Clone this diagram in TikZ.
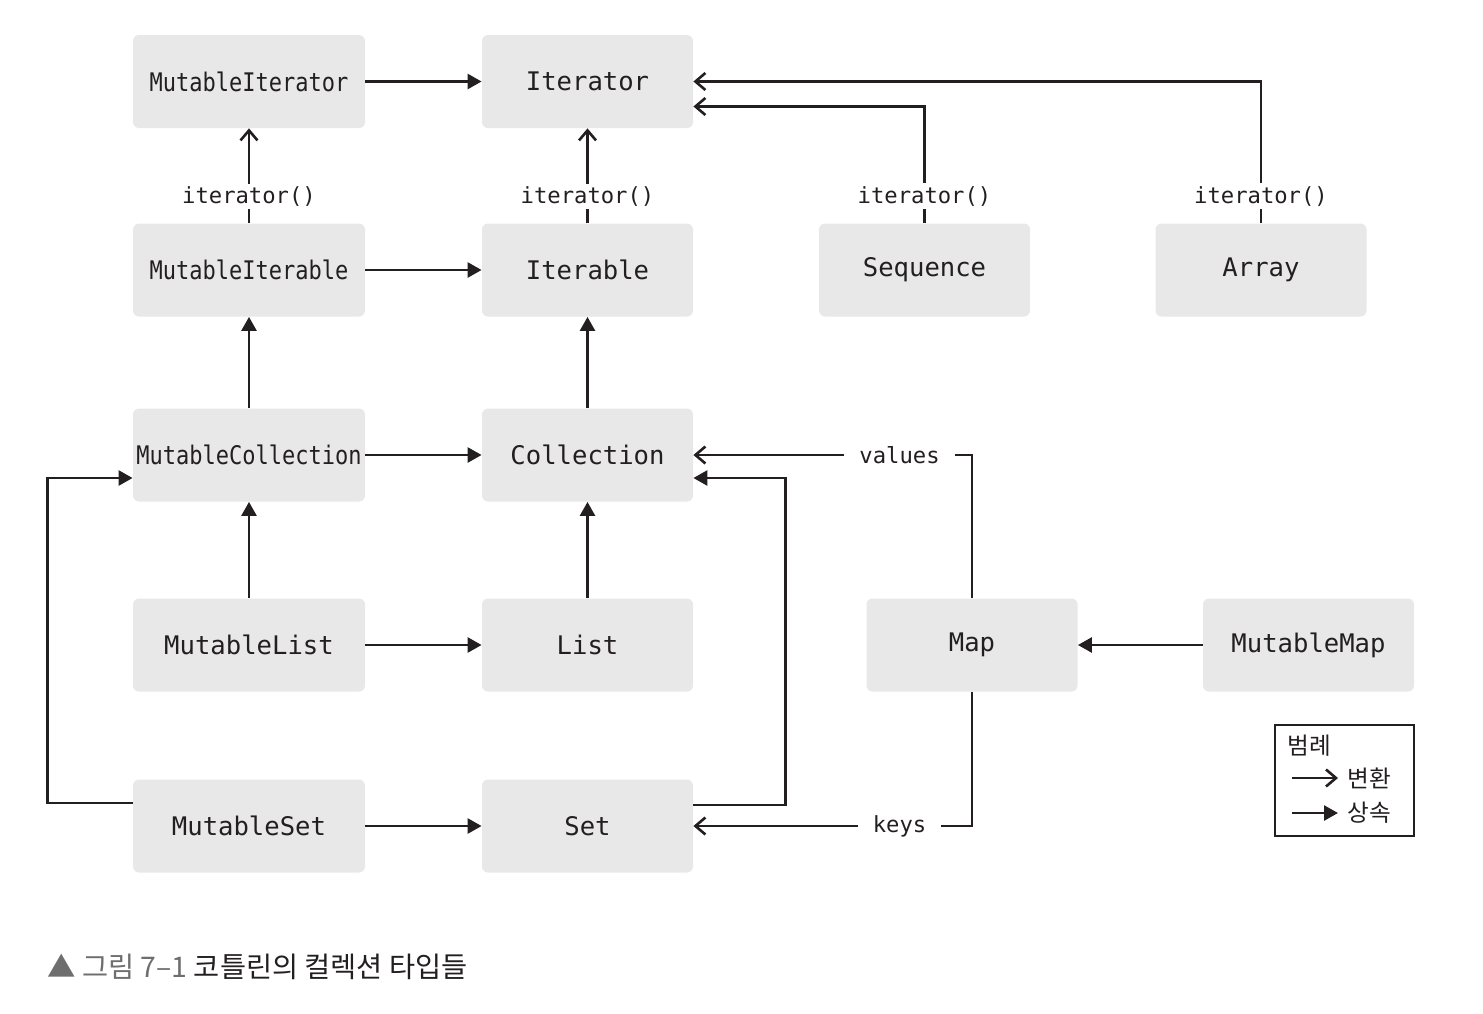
\documentclass[tikz,border=0pt]{standalone}
\usepackage{fontspec}
\usepackage{graphicx}
\setmonofont{DejaVu Sans Mono}
\newfontfamily\kofont{Noto Sans CJK KR}
\usetikzlibrary{arrows.meta}
\definecolor{boxgray}{HTML}{E8E8E8}
\definecolor{linecol}{HTML}{231F20}
\definecolor{capgray}{HTML}{6E6E6E}
\newcommand{\condensed}[1]{\scalebox{0.86}[1]{#1}}
\tikzset{
    cls/.style={fill=boxgray, rounded corners=3pt, minimum width=116pt, minimum height=46.5pt,
        text=linecol, font=\ttfamily\fontsize{12.8}{14}\selectfont},
    clsn/.style={cls, minimum width=105.5pt},
    longname/.style={inner xsep=1pt},
    inh/.style={draw=linecol, line width=1.3pt, -{Triangle[length=7pt,width=7.5pt]}},
    conv/.style={draw=linecol, line width=1.3pt, -{Straight Barb[length=5pt,width=8.5pt,line width=1.3pt]}},
    mlabel/.style={fill=white, inner xsep=7.5pt, inner ysep=1.5pt, text=linecol,
        font=\ttfamily\fontsize{11.1}{13}\selectfont},
    kotext/.style={text=linecol, inner sep=0pt, font=\kofont\fontsize{11.8}{13}\selectfont},
}
\begin{document}
\begin{tikzpicture}[x=0.5pt,y=-0.5pt]
        \useasboundingbox (0,0) rectangle (1483,1013);
        % classes
        \node[cls,longname] (MutIterator) at (249,81.5) {\condensed{MutableIterator}};
        \node[clsn] (Iterator) at (587.5,81.5) {Iterator};
        \node[cls,longname] (MutIterable) at (249,270) {\condensed{MutableIterable}};
        \node[clsn] (Iterable) at (587.5,270) {Iterable};
        \node[clsn] (Sequence) at (924.5,270) {Sequence};
        \node[clsn] (Array) at (1261,270) {Array};
        \node[cls,longname] (MutCollection) at (249,455) {\condensed{MutableCollection}};
        \node[clsn] (Collection) at (587.5,455) {Collection};
        \node[cls] (MutList) at (249,645) {MutableList};
        \node[clsn] (List) at (587.5,645) {List};
        \node[clsn] (Map) at (972,645) {Map};
        \node[clsn] (MutMap) at (1308.5,645) {MutableMap};
        \node[cls] (MutSet) at (249,826) {MutableSet};
        \node[clsn] (Set) at (587.5,826) {Set};
        % inheritance
        \draw[inh] (MutIterator) -- (Iterator);
        \draw[inh] (MutIterable) -- (Iterable);
        \draw[inh] (MutCollection) -- (MutIterable);
        \draw[inh] (Collection) -- (Iterable);
        \draw[inh] (MutCollection) -- (Collection);
        \draw[inh] (MutList) -- (MutCollection);
        \draw[inh] (List) -- (Collection);
        \draw[inh] (MutList) -- (List);
        \draw[inh] (MutMap) -- (Map);
        \draw[inh] (MutSet) -- (Set);
        \coordinate (SetOut) at ([yshift=10.5pt]Set.east);
        \coordinate (CollIn) at ([yshift=-11.5pt]Collection.east);
        \draw[inh] (SetOut) -- ++(92,0) |- (CollIn);
        \coordinate (MSetOut) at ([yshift=11.5pt]MutSet.west);
        \coordinate (MCollIn) at ([yshift=-11.5pt]MutCollection.west);
        \draw[inh] (MSetOut) -- ++(-85,0) |- (MCollIn);
        % conversion
        \draw[conv] (MutIterable) -- node[mlabel,pos=0.28] (lblMutIt) {iterator()} (MutIterator);
        \draw[conv] (Iterable) -- node[mlabel,pos=0.28] (lblIt) {iterator()} (Iterator);
        \coordinate (IterIn) at ([yshift=-12.5pt]Iterator.east);
        \draw[conv] (Sequence.north) -- node[mlabel,pos=0.23] (lblSeq) {iterator()} (Sequence.north |- IterIn) -- (IterIn);
        \draw[conv] (Array.north) -- node[mlabel,pos=0.19] (lblArr) {iterator()} (Array.north |- Iterator.east) -- (Iterator.east);
        \draw[conv] (Map.north) |- node[mlabel,pos=0.63] (lblValues) {values} (Collection.east);
        \draw[conv] (Map.south) |- node[mlabel,pos=0.63] (lblKeys) {keys} (Set.east);
        % legend
        \node[draw=linecol, line width=0.8pt, minimum width=69.5pt, minimum height=55.5pt, inner sep=0pt] (legend) at (1344.5,780.5) {};
        \node[kotext, anchor=west] (legTitle) at (1287,746) {범례};
        \coordinate (legConvA) at (1292,778);
        \coordinate (legConvB) at (1338,778);
        \coordinate (legInhA) at (1292,813);
        \coordinate (legInhB) at (1338,813);
        \draw[conv] (legConvA) -- (legConvB);
        \draw[inh] (legInhA) -- (legInhB);
        \node[kotext, anchor=west] (legConv) at (1347,778) {변환};
        \node[kotext, anchor=west] (legInh) at (1347,813) {상속};
        % caption
        \node[anchor=west, inner sep=0pt, text=linecol, font=\kofont\fontsize{14.2}{16}\selectfont] (caption) at (47,967)
            {\textcolor{capgray}{▲ 그림 7–1} 코틀린의 컬렉션 타입들};
\end{tikzpicture}
\end{document}
